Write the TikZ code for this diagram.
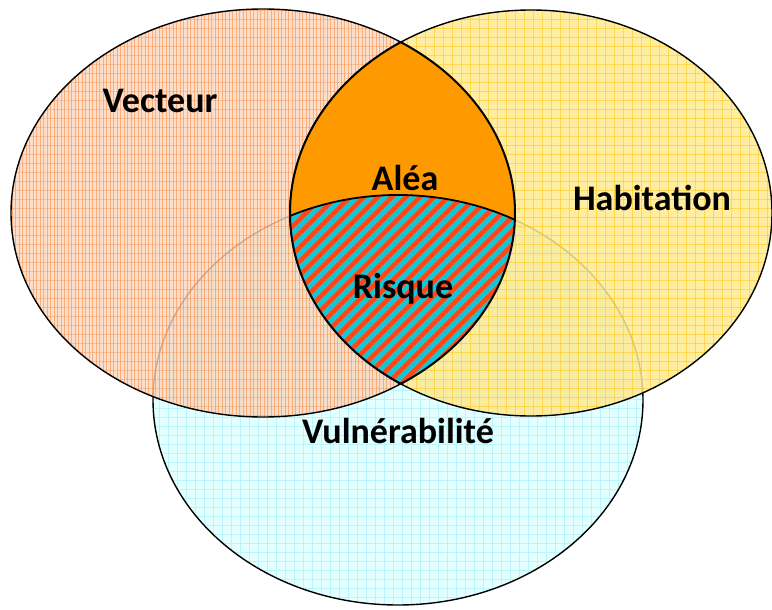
\documentclass[tikz,border=0pt]{standalone}
\usepackage{fontspec}
\setmainfont{Carlito}
\definecolor{vecbase}{RGB}{252,214,190}
\definecolor{vecline}{RGB}{248,135,60}
\definecolor{habbase}{RGB}{255,234,145}
\definecolor{habline}{RGB}{255,200,30}
\definecolor{vulbase}{RGB}{228,255,255}
\definecolor{vulline}{RGB}{185,245,252}
\definecolor{aleacol}{RGB}{255,153,0}
\definecolor{risbase}{RGB}{100,172,165}
\definecolor{risred}{RGB}{255,70,20}
\definecolor{riscyan}{RGB}{0,205,225}
\begin{document}
\begin{tikzpicture}[x=1pt,y=-1pt,
  lbl/.style={font=\fontsize{36}{40}\selectfont\bfseries, inner sep=0pt, text=black},
  outl/.style={line width=1.4pt, draw=black}]
\useasboundingbox (0,0) rectangle (772,610);
\def\pVec{(263,213) ellipse [x radius=252pt, y radius=204pt]}
\def\pHab{(531,213) ellipse [x radius=241pt, y radius=203pt]}
\def\pVul{(398,400) ellipse [x radius=245pt, y radius=205pt]}
% Vulnerabilite
\fill[vulbase] \pVul;
\begin{scope}
  \clip \pVul;
  \foreach \x in {150,159,...,650} \draw[vulline, line width=0.5pt] (\x,190) -- (\x,610);
  \foreach \y in {192,201,...,610} \draw[vulline, line width=0.5pt] (150,\y) -- (650,\y);
\end{scope}
\draw[outl] \pVul;
% Vecteur
\fill[vecbase, fill opacity=0.8] \pVec;
\begin{scope}
  \clip \pVec;
  \foreach \x in {12,15.5,...,516} \draw[vecline, line width=0.6pt, opacity=0.55] (\x,5) -- (\x,420);
  \foreach \y in {10,19,...,420} \draw[vecline, line width=0.5pt, opacity=0.35] (10,\y) -- (520,\y);
\end{scope}
\draw[outl] \pVec;
% Habitation
\fill[habbase, fill opacity=0.85] \pHab;
\begin{scope}
  \clip \pHab;
  \foreach \x in {290,299,...,775} \draw[habline, line width=0.7pt, opacity=0.6] (\x,5) -- (\x,420);
  \foreach \y in {10,19,...,420} \draw[habline, line width=0.7pt, opacity=0.6] (285,\y) -- (775,\y);
\end{scope}
\draw[outl] \pHab;
% Alea (intersection Vecteur/Habitation)
\begin{scope}
  \clip \pVec;
  \fill[aleacol] \pHab;
\end{scope}
% Risque (intersection of all three)
\begin{scope}
  \clip \pVec;
  \clip \pHab;
  \clip \pVul;
  \fill[risbase] (280,180) rectangle (530,400);
  \foreach \i in {-140,-126,...,560} \draw[riscyan, line width=3pt] (\i,400) -- ++(240,-240);
  \foreach \i in {-133,-119,...,567} \draw[risred, line width=4.5pt] (\i,400) -- ++(240,-240);
\end{scope}
% outlines of Alea and Risque
\begin{scope}
  \clip \pHab;
  \draw[line width=2pt] \pVec;
\end{scope}
\begin{scope}
  \clip \pVec;
  \draw[line width=2pt] \pHab;
\end{scope}
\begin{scope}
  \clip \pVec;
  \clip \pHab;
  \draw[line width=1.8pt] \pVul;
\end{scope}
% labels
\node[lbl] (vecteur) at (160,101) {Vecteur};
\node[lbl] (habitation) at (652,198) {Habitation};
\node[lbl] (alea) at (405,178) {Aléa};
\node[lbl] (risque) at (403,289) {Risque};
\node[lbl] (vulnerabilite) at (398,431) {Vulnérabilité};
\end{tikzpicture}
\end{document}
